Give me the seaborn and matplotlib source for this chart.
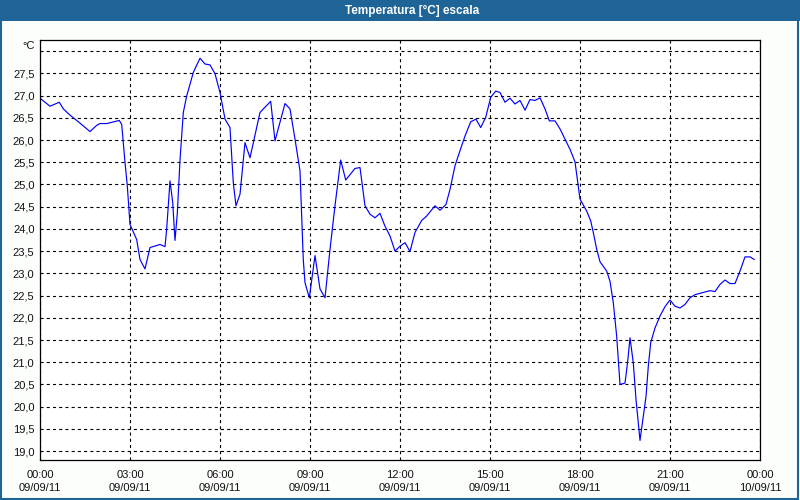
import numpy as np
import pandas as pd
import matplotlib
matplotlib.use("Agg")
import matplotlib.pyplot as plt
import seaborn as sns

# hours after 00:00 on 09/09/11, temperature in degC
hours = [0.0, 0.333, 0.643, 0.777, 1.0, 1.333, 1.667, 1.89, 2.0, 2.223, 2.643, 2.723,
         2.833, 2.91, 3.0, 3.223, 3.333, 3.5, 3.667, 4.0, 4.167, 4.223, 4.333, 4.423,
         4.5, 4.577, 4.667, 4.777, 4.89, 5.11, 5.333, 5.5, 5.667, 5.833, 6.0, 6.167,
         6.333, 6.443, 6.533, 6.667, 6.833, 7.0, 7.333, 7.69, 7.833, 8.167, 8.333, 8.5,
         8.667, 8.777, 8.833, 8.977, 9.167, 9.333, 9.5, 9.667, 9.833, 10.023, 10.19,
         10.5, 10.667, 10.833, 11.0, 11.167, 11.333, 11.5, 11.667, 11.833, 12.0, 12.167,
         12.333, 12.5, 12.723, 12.89, 13.167, 13.333, 13.533, 13.667, 13.833, 14.0,
         14.167, 14.357, 14.533, 14.69, 14.857, 15.023, 15.19, 15.333, 15.5, 15.667,
         15.833, 16.0, 16.167, 16.333, 16.5, 16.667, 16.833, 16.977, 17.167, 17.333,
         17.5, 17.667, 17.833, 17.91, 18.0, 18.223, 18.357, 18.443, 18.557, 18.667,
         18.89, 19.0, 19.11, 19.223, 19.333, 19.5, 19.59, 19.667, 19.777, 19.867,
         19.943, 20.0, 20.11, 20.2, 20.277, 20.357, 20.5, 20.667, 20.833, 21.0, 21.167,
         21.333, 21.5, 21.667, 21.833, 22.0, 22.167, 22.333, 22.5, 22.667, 22.833,
         23.0, 23.167, 23.333, 23.5, 23.667, 23.81]
temps = [26.94, 26.76, 26.85, 26.70, 26.56, 26.38, 26.19, 26.33, 26.37, 26.37, 26.44, 26.35,
         25.50, 24.97, 24.10, 23.76, 23.31, 23.10, 23.58, 23.65, 23.60, 24.00, 25.08, 24.60,
         23.74, 24.35, 25.55, 26.62, 26.99, 27.52, 27.84, 27.71, 27.69, 27.49, 27.07, 26.47,
         26.28, 25.04, 24.52, 24.78, 25.94, 25.60, 26.62, 26.87, 25.98, 26.82, 26.70, 26.02,
         25.30, 23.30, 22.79, 22.45, 23.40, 22.65, 22.45, 23.54, 24.52, 25.55, 25.10,
         25.36, 25.38, 24.52, 24.33, 24.25, 24.35, 24.06, 23.84, 23.50, 23.61, 23.69,
         23.49, 23.92, 24.19, 24.29, 24.52, 24.42, 24.55, 24.89, 25.42, 25.76,
         26.09, 26.41, 26.47, 26.28, 26.51, 26.96, 27.10, 27.07, 26.85, 26.94,
         26.81, 26.89, 26.67, 26.91, 26.89, 26.95, 26.70, 26.43, 26.43, 26.25,
         26.02, 25.79, 25.51, 25.12, 24.67, 24.40, 24.18, 23.92, 23.54, 23.26,
         23.05, 22.82, 22.34, 21.58, 20.50, 20.53, 21.02, 21.55, 20.98, 20.16,
         19.63, 19.24, 19.78, 20.23, 20.91, 21.44, 21.77, 22.04, 22.25, 22.40, 22.26,
         22.22, 22.30, 22.45, 22.52, 22.55, 22.58, 22.61, 22.59, 22.75, 22.85,
         22.77, 22.77, 23.05, 23.37, 23.37, 23.31]

xtick_pos = [0, 3, 6, 9, 12, 15, 18, 21, 24]
xtick_lab = ["00:00\n09/09/11", "03:00\n09/09/11", "06:00\n09/09/11", "09:00\n09/09/11",
             "12:00\n09/09/11", "15:00\n09/09/11", "18:00\n09/09/11", "21:00\n09/09/11",
             "00:00\n10/09/11"]
ytick_pos = np.arange(19.0, 28.01, 0.5)
ytick_lab = [f"{v:.1f}".replace(".", ",") for v in ytick_pos[:-1]] + [""]

df = pd.DataFrame({"hora": hours, "temp": temps})

sns.set_style("white")
plt.rcParams["font.family"] = ["Liberation Sans", "DejaVu Sans"]
BLUEBAR = "#1e6497"

fig = plt.figure(figsize=(8, 5), dpi=100, facecolor="#fcfefc")
ax = fig.add_axes([0.05, 0.08, 0.90, 0.84])
ax.set_facecolor("white")

sns.lineplot(data=df, x="hora", y="temp", color="#0000ff", lw=0.85, ax=ax, sort=False)

ax.set_xlim(0, 24)
ax.set_ylim(18.8, 28.25)
ax.set_xticks(xtick_pos)
ax.set_xticklabels(xtick_lab, fontsize=8, linespacing=1.45)
ax.set_xticks(range(25), minor=True)
ax.set_yticks(ytick_pos)
ax.set_yticklabels(ytick_lab, fontsize=8)
ax.tick_params(axis="x", which="both", direction="out", length=3, width=0.8,
               color="black", pad=4, labelcolor="#111111")
ax.tick_params(axis="y", length=0, pad=4, labelcolor="#111111")
ax.grid(True, which="major", color="black", linestyle=(0, (2.8, 2.8)), lw=0.8)
ax.set_xlabel("")
ax.set_ylabel("")
for s in ax.spines.values():
    s.set_color("black")
    s.set_linewidth(0.9)

fig.text(0.043, 1 - 46 / 500, "°C", ha="right", va="center", fontsize=8, color="#111111")

# window title bar and border
fig.patches.append(plt.Rectangle((0, 1 - 21 / 500), 1, 21 / 500, transform=fig.transFigure,
                                 facecolor=BLUEBAR, edgecolor="none", zorder=0))
fig.patches.append(plt.Rectangle((0.001, 0.002), 0.997, 0.99, transform=fig.transFigure,
                                 facecolor="none", edgecolor=BLUEBAR, lw=1.5, zorder=0))
fig.text(0.515, 1 - 10.5 / 500, "Temperatura [°C] escala", ha="center", va="center",
         fontsize=8.5, fontweight="bold", color="white")

fig.savefig("out.png", dpi=100, facecolor=fig.get_facecolor())
